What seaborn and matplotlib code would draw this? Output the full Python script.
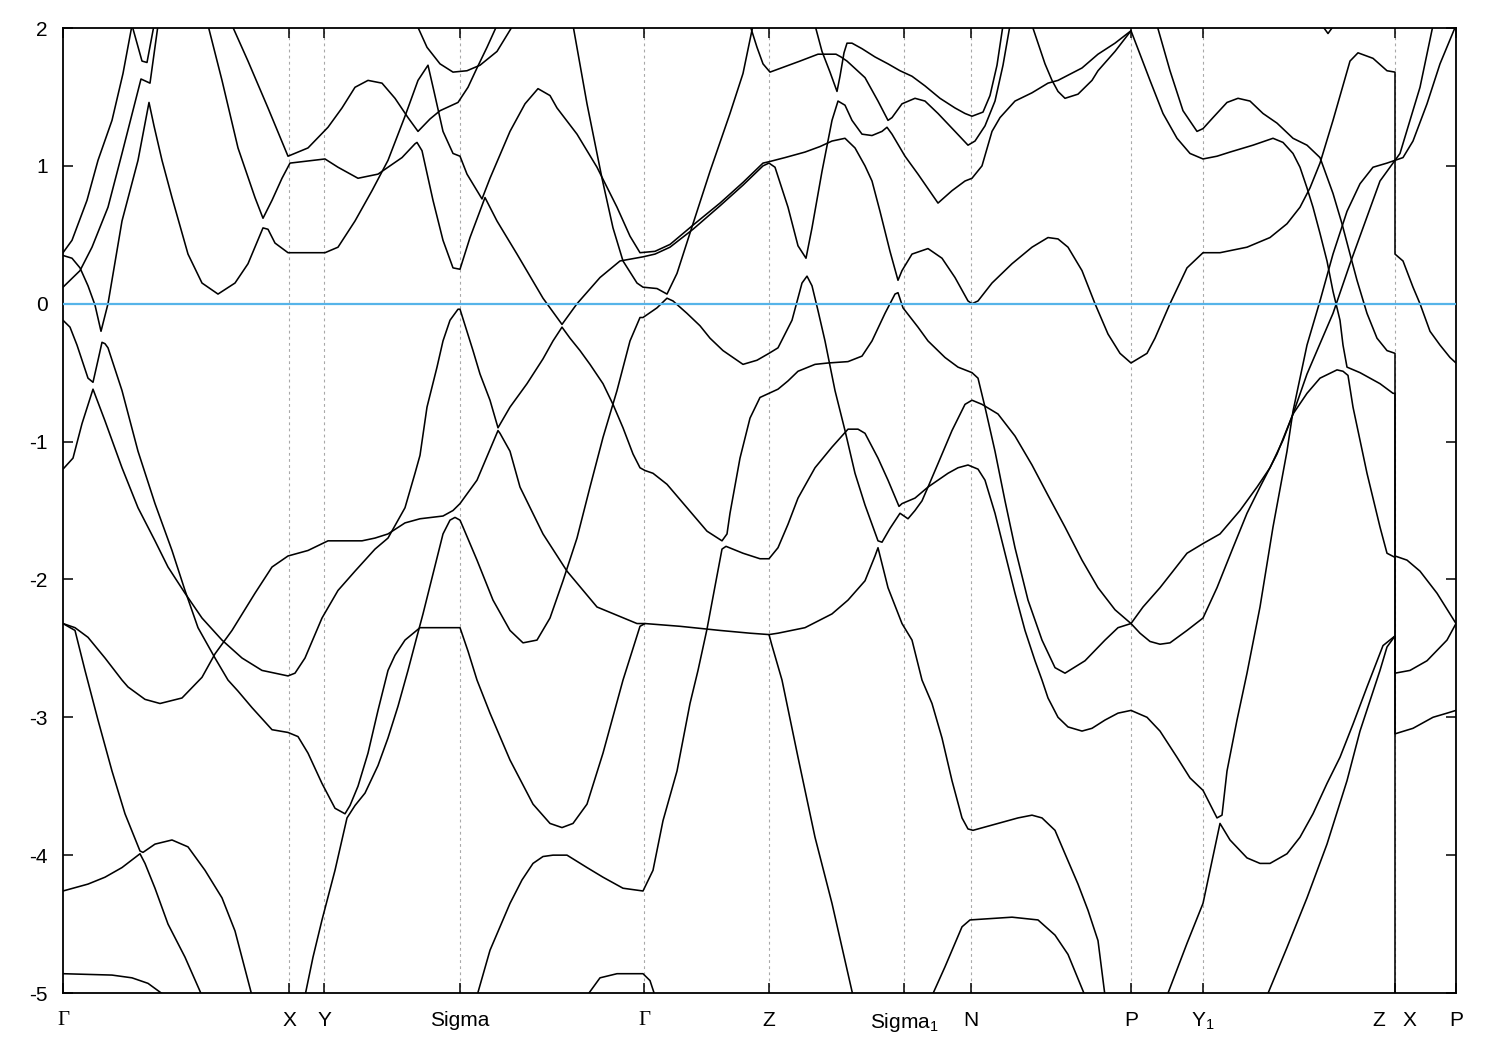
import matplotlib
matplotlib.use("Agg")
import matplotlib.pyplot as plt
import seaborn as sns
import pandas as pd

# ---------------- path / axis data ----------------
kpath_pos = [0.00, 2.26, 2.61, 3.97, 5.81, 7.06, 8.41, 9.08, 10.68, 11.40, 13.32, 13.93]
kpath_labels = ["Γ", "X", "Y", "Sigma", "Γ", "Z", "Sigma$_1$", "N", "P", "Y$_1$", "Z   X", "P"]
energy_ticks = [-5, -4, -3, -2, -1, 0, 1, 2]
fermi_level = 0.0

# ---------------- bands (k, E) ----------------
band01 = [(0.00, 0.37), (0.09, 0.46), (0.24, 0.75), (0.35, 1.04), (0.49, 1.33), (0.60, 1.67), (0.69, 2.02),
          (0.79, 1.76), (0.84, 1.75), (0.91, 2.02)]
band02 = [(0.00, 0.12), (0.17, 0.24), (0.29, 0.41), (0.45, 0.70), (0.59, 1.09), (0.78, 1.63), (0.87, 1.60),
          (0.95, 2.02)]
band03 = [(0.00, 0.35), (0.09, 0.33), (0.17, 0.26), (0.25, 0.13), (0.32, -0.01), (0.38, -0.20), (0.45, 0.00),
          (0.59, 0.60), (0.75, 1.04), (0.86, 1.46), (0.91, 1.29), (0.99, 1.04), (1.09, 0.77), (1.25, 0.36),
          (1.39, 0.15), (1.55, 0.07), (1.72, 0.15), (1.85, 0.29), (2.00, 0.55), (2.05, 0.54), (2.12, 0.44),
          (2.25, 0.37), (2.62, 0.37), (2.75, 0.41), (2.92, 0.60), (3.09, 0.82), (3.25, 1.04), (3.42, 1.36),
          (3.55, 1.62), (3.65, 1.73), (3.71, 1.54), (3.80, 1.25), (3.90, 1.09), (3.97, 1.07), (4.04, 0.94),
          (4.19, 0.76), (4.27, 0.91), (4.47, 1.25), (4.62, 1.45), (4.75, 1.56), (4.87, 1.51), (4.94, 1.42),
          (5.14, 1.23), (5.34, 0.99), (5.54, 0.70), (5.67, 0.49), (5.77, 0.37), (5.92, 0.38), (6.07, 0.43),
          (6.30, 0.57), (6.57, 0.73), (6.80, 0.88), (7.00, 1.02), (7.06, 1.03),
          (7.22, 1.06), (7.42, 1.10), (7.57, 1.14), (7.69, 1.18), (7.82, 1.20), (7.92, 1.13), (8.02, 1.00),
          (8.09, 0.89), (8.17, 0.67), (8.27, 0.38), (8.35, 0.17), (8.39, 0.24), (8.49, 0.36), (8.65, 0.40),
          (8.79, 0.33), (8.92, 0.19), (9.05, 0.02), (9.09, 0.00), (9.15, 0.02), (9.29, 0.15), (9.49, 0.29),
          (9.69, 0.41), (9.85, 0.48), (9.95, 0.47), (10.05, 0.41), (10.19, 0.24), (10.32, 0.00), (10.45, -0.22),
          (10.57, -0.36), (10.68, -0.43),
          (10.84, -0.36), (10.92, -0.25), (11.07, 0.00), (11.24, 0.26), (11.40, 0.37), (11.57, 0.37),
          (11.84, 0.41), (12.07, 0.48), (12.24, 0.58), (12.37, 0.70), (12.47, 0.84), (12.57, 1.02),
          (12.70, 1.33), (12.87, 1.76), (12.95, 1.82), (13.10, 1.78), (13.24, 1.69), (13.32, 1.68),
          (13.32, 0.36), (13.40, 0.31), (13.50, 0.12), (13.57, 0.00), (13.67, -0.20), (13.77, -0.30),
          (13.87, -0.39), (13.93, -0.43)]
band04 = [(1.45, 2.02), (1.59, 1.62), (1.75, 1.13), (1.92, 0.77), (2.00, 0.62), (2.09, 0.75), (2.19, 0.91),
          (2.27, 1.02), (2.62, 1.05), (2.75, 0.99), (2.95, 0.91), (3.15, 0.94), (3.39, 1.06), (3.52, 1.16),
          (3.54, 1.17), (3.59, 1.11), (3.70, 0.75), (3.80, 0.46), (3.90, 0.26), (3.97, 0.25), (4.07, 0.48),
          (4.22, 0.77), (4.34, 0.60), (4.54, 0.36), (4.80, 0.04), (4.99, -0.15), (5.14, 0.00), (5.37, 0.19),
          (5.57, 0.31), (5.80, 0.34), (5.92, 0.36), (6.07, 0.41), (6.30, 0.54), (6.57, 0.71), (6.80, 0.86),
          (7.00, 1.00), (7.06, 1.02),
          (7.12, 0.99), (7.25, 0.70), (7.35, 0.42), (7.43, 0.33), (7.49, 0.55), (7.59, 0.96), (7.69, 1.33),
          (7.75, 1.47), (7.82, 1.44), (7.89, 1.33), (7.99, 1.23), (8.09, 1.22), (8.19, 1.25), (8.24, 1.28),
          (8.29, 1.23), (8.42, 1.07), (8.55, 0.94), (8.75, 0.73), (8.89, 0.82), (9.02, 0.89), (9.09, 0.91),
          (9.19, 1.00), (9.29, 1.25), (9.37, 1.35), (9.52, 1.47), (9.69, 1.53), (9.85, 1.60), (9.95, 1.62),
          (10.19, 1.71), (10.35, 1.81), (10.52, 1.89), (10.68, 1.98),
          (10.77, 1.81), (10.87, 1.62), (11.00, 1.38), (11.14, 1.20), (11.27, 1.09), (11.40, 1.05),
          (11.54, 1.07), (11.67, 1.10), (11.90, 1.15), (12.10, 1.20), (12.20, 1.17), (12.30, 1.09),
          (12.37, 0.99), (12.44, 0.84), (12.50, 0.70), (12.57, 0.51), (12.64, 0.31), (12.70, 0.09),
          (12.77, -0.12), (12.80, -0.30), (12.84, -0.46), (12.97, -0.50), (13.17, -0.58), (13.30, -0.65),
          (13.32, -0.65), (13.32, -1.83), (13.44, -1.86), (13.57, -1.94), (13.74, -2.10), (13.93, -2.32)]
band05 = [(1.69, 2.02), (1.85, 1.76), (2.05, 1.42), (2.25, 1.07), (2.45, 1.13), (2.65, 1.28), (2.79, 1.42),
          (2.92, 1.57), (3.05, 1.62), (3.19, 1.60), (3.32, 1.49), (3.45, 1.35), (3.55, 1.25), (3.67, 1.34),
          (3.77, 1.40), (3.95, 1.46), (4.05, 1.57), (4.14, 1.71), (4.24, 1.86), (4.34, 2.02)]
band06 = [(3.54, 2.02), (3.64, 1.86), (3.77, 1.74), (3.90, 1.68), (4.04, 1.69), (4.17, 1.73), (4.34, 1.83),
          (4.50, 2.02)]
band07 = [(5.10, 2.02), (5.24, 1.45), (5.39, 0.91), (5.50, 0.55), (5.60, 0.31), (5.74, 0.15), (5.80, 0.12),
          (5.94, 0.11), (6.04, 0.07), (6.14, 0.22), (6.30, 0.58), (6.47, 0.96), (6.67, 1.38), (6.80, 1.67),
          (6.90, 2.02)]
band08 = [(6.87, 2.02), (6.94, 1.86), (7.00, 1.74), (7.07, 1.68), (7.22, 1.72), (7.37, 1.76), (7.55, 1.81),
          (7.73, 1.81), (7.78, 1.79), (7.84, 1.76), (8.02, 1.64), (8.15, 1.47), (8.25, 1.33), (8.29, 1.35),
          (8.39, 1.45), (8.52, 1.49), (8.62, 1.47), (8.75, 1.38), (8.92, 1.25), (9.05, 1.15), (9.12, 1.18),
          (9.22, 1.29), (9.32, 1.47), (9.40, 1.73), (9.47, 2.02)]
band09 = [(7.52, 2.02), (7.59, 1.83), (7.67, 1.68), (7.74, 1.54), (7.77, 1.65), (7.81, 1.82), (7.84, 1.89),
          (7.89, 1.89), (7.99, 1.85), (8.12, 1.79), (8.25, 1.74), (8.37, 1.69), (8.49, 1.65), (8.62, 1.58),
          (8.77, 1.49), (8.92, 1.42), (9.02, 1.38), (9.09, 1.36), (9.20, 1.39), (9.27, 1.51), (9.34, 1.73),
          (9.40, 2.02)]
band10 = [(9.69, 2.02), (9.82, 1.74), (9.89, 1.62), (9.95, 1.54), (10.02, 1.49), (10.15, 1.52), (10.29, 1.62),
          (10.35, 1.69), (10.52, 1.83), (10.68, 1.98)]
band11 = [(10.94, 2.02), (11.07, 1.69), (11.20, 1.40), (11.34, 1.25), (11.40, 1.27), (11.50, 1.35),
          (11.64, 1.46), (11.75, 1.49), (11.87, 1.47), (12.00, 1.38), (12.14, 1.31), (12.30, 1.20),
          (12.44, 1.15), (12.57, 1.06), (12.70, 0.80), (12.79, 0.58), (12.87, 0.36), (12.94, 0.17),
          (13.04, -0.07), (13.14, -0.25), (13.24, -0.34), (13.32, -0.36), (13.32, -5.10)]
band12 = [(0.00, -1.20), (0.10, -1.12), (0.19, -0.87), (0.30, -0.62), (0.42, -0.85), (0.59, -1.19),
          (0.75, -1.48), (0.92, -1.72), (1.05, -1.91), (1.22, -2.10), (1.39, -2.28), (1.59, -2.44),
          (1.79, -2.57), (1.99, -2.66), (2.25, -2.70), (2.32, -2.68), (2.42, -2.57), (2.59, -2.28),
          (2.75, -2.08), (2.92, -1.94), (3.12, -1.78), (3.25, -1.70), (3.42, -1.48), (3.52, -1.23),
          (3.57, -1.10), (3.64, -0.75), (3.74, -0.46), (3.80, -0.27), (3.87, -0.12), (3.95, -0.04),
          (3.97, -0.04), (4.10, -0.34), (4.17, -0.51), (4.27, -0.70), (4.35, -0.90), (4.47, -0.75),
          (4.64, -0.58), (4.80, -0.40), (4.90, -0.27), (4.99, -0.17), (5.07, -0.25), (5.17, -0.34),
          (5.27, -0.44), (5.40, -0.58), (5.50, -0.73), (5.60, -0.90), (5.70, -1.09), (5.77, -1.19),
          (5.82, -1.21), (5.90, -1.23), (6.04, -1.31), (6.24, -1.48), (6.44, -1.65), (6.59, -1.72),
          (6.64, -1.67), (6.67, -1.52), (6.77, -1.12), (6.87, -0.83), (6.97, -0.68), (7.06, -0.65),
          (7.15, -0.62), (7.25, -0.56), (7.35, -0.49), (7.52, -0.44), (7.65, -0.43), (7.85, -0.42),
          (7.99, -0.38), (8.09, -0.27), (8.22, -0.07), (8.32, 0.07), (8.35, 0.08), (8.40, -0.03),
          (8.55, -0.17), (8.65, -0.27), (8.82, -0.39), (8.95, -0.46), (9.09, -0.50), (9.15, -0.54),
          (9.22, -0.75), (9.32, -1.07), (9.42, -1.43), (9.52, -1.77), (9.65, -2.15), (9.79, -2.44),
          (9.92, -2.64), (10.02, -2.68), (10.22, -2.59), (10.42, -2.44), (10.55, -2.35), (10.68, -2.32),
          (10.77, -2.39), (10.87, -2.45), (10.97, -2.47), (11.07, -2.46), (11.24, -2.37), (11.40, -2.28),
          (11.54, -2.06), (11.70, -1.77), (11.84, -1.52), (11.97, -1.33), (12.14, -1.09), (12.30, -0.80),
          (12.44, -0.51), (12.57, -0.29), (12.70, -0.07), (12.87, 0.29), (13.00, 0.55), (13.17, 0.89),
          (13.30, 1.02), (13.32, 1.04), (13.37, 1.09), (13.47, 1.33), (13.57, 1.57), (13.70, 2.02)]
band13 = [(2.42, -5.02), (2.50, -4.74), (2.59, -4.47), (2.72, -4.11), (2.78, -3.92), (2.84, -3.73),
          (2.92, -3.64), (3.02, -3.55), (3.15, -3.35), (3.25, -3.15), (3.35, -2.92), (3.45, -2.66),
          (3.53, -2.44), (3.60, -2.25), (3.70, -1.96), (3.80, -1.67), (3.87, -1.57), (3.92, -1.55),
          (3.97, -1.57), (4.00, -1.62), (4.14, -1.86), (4.30, -2.15), (4.47, -2.37), (4.60, -2.46),
          (4.74, -2.44), (4.87, -2.28), (5.00, -2.01), (5.14, -1.70), (5.27, -1.33), (5.40, -0.97),
          (5.54, -0.63), (5.67, -0.27), (5.77, -0.10), (5.80, -0.10), (5.94, -0.03), (6.04, 0.04),
          (6.10, 0.02), (6.24, -0.07), (6.37, -0.16), (6.47, -0.25), (6.60, -0.34), (6.80, -0.44),
          (6.94, -0.41), (7.06, -0.36), (7.15, -0.32), (7.29, -0.12), (7.39, 0.15), (7.44, 0.20),
          (7.49, 0.13), (7.55, -0.05), (7.62, -0.27), (7.72, -0.63), (7.82, -0.92), (7.92, -1.23),
          (8.02, -1.46), (8.15, -1.72), (8.19, -1.73), (8.27, -1.63), (8.37, -1.52), (8.45, -1.56),
          (8.52, -1.50), (8.59, -1.43), (8.65, -1.33), (8.75, -1.16), (8.89, -0.92), (9.02, -0.73),
          (9.09, -0.70), (9.19, -0.73), (9.35, -0.80), (9.52, -0.96), (9.69, -1.17), (9.85, -1.39),
          (10.02, -1.62), (10.19, -1.86), (10.35, -2.06), (10.52, -2.22), (10.68, -2.32),
          (10.80, -2.20), (10.97, -2.06), (11.10, -1.94), (11.24, -1.81), (11.40, -1.74), (11.57, -1.67),
          (11.77, -1.50), (11.94, -1.33), (12.07, -1.19), (12.20, -0.99), (12.30, -0.80), (12.44, -0.65),
          (12.57, -0.54), (12.74, -0.48), (12.80, -0.49), (12.85, -0.52), (12.90, -0.75), (13.04, -1.23),
          (13.17, -1.62), (13.24, -1.81), (13.32, -1.84), (13.32, -2.68), (13.47, -2.66), (13.64, -2.59),
          (13.84, -2.44), (13.93, -2.32)]
band14 = [(4.14, -5.02), (4.27, -4.69), (4.47, -4.35), (4.59, -4.18), (4.70, -4.06), (4.80, -4.01),
          (4.90, -4.00), (5.04, -4.00), (5.24, -4.09), (5.40, -4.16), (5.60, -4.24), (5.80, -4.26),
          (5.90, -4.11), (6.00, -3.75), (6.14, -3.39), (6.27, -2.90), (6.35, -2.66), (6.44, -2.36),
          (6.52, -2.05), (6.59, -1.78), (6.63, -1.76), (6.80, -1.81), (6.97, -1.85), (7.06, -1.85),
          (7.15, -1.77), (7.25, -1.60), (7.35, -1.41), (7.52, -1.19), (7.69, -1.04), (7.85, -0.91),
          (7.95, -0.91), (8.02, -0.94), (8.15, -1.12), (8.25, -1.28), (8.36, -1.47), (8.39, -1.45),
          (8.52, -1.41), (8.65, -1.33), (8.85, -1.23), (8.95, -1.19), (9.05, -1.17), (9.15, -1.20),
          (9.22, -1.28), (9.32, -1.52), (9.42, -1.81), (9.52, -2.10), (9.62, -2.37), (9.72, -2.59),
          (9.79, -2.73), (9.85, -2.86), (9.95, -3.00), (10.05, -3.07), (10.19, -3.10), (10.29, -3.08),
          (10.42, -3.02), (10.55, -2.97), (10.68, -2.95),
          (10.84, -3.00), (10.97, -3.10), (11.14, -3.29), (11.27, -3.44), (11.40, -3.53), (11.54, -3.73),
          (11.59, -3.71), (11.64, -3.39), (11.74, -3.02), (11.84, -2.68), (11.97, -2.20), (12.10, -1.62),
          (12.24, -1.07), (12.30, -0.78), (12.44, -0.30), (12.57, 0.02), (12.70, 0.36), (12.84, 0.67),
          (12.97, 0.87), (13.10, 0.99), (13.24, 1.02), (13.32, 1.04), (13.40, 1.06), (13.50, 1.18),
          (13.64, 1.45), (13.77, 1.74), (13.93, 2.02)]
band15 = [(0.00, -0.12), (0.07, -0.17), (0.14, -0.30), (0.25, -0.54), (0.30, -0.57), (0.35, -0.41),
          (0.39, -0.28), (0.42, -0.29), (0.45, -0.32), (0.59, -0.63), (0.75, -1.07), (0.92, -1.45),
          (1.09, -1.79), (1.22, -2.08), (1.35, -2.35), (1.52, -2.57), (1.65, -2.73), (1.75, -2.81),
          (1.89, -2.93), (2.09, -3.09), (2.25, -3.11), (2.35, -3.14), (2.45, -3.26), (2.59, -3.48),
          (2.72, -3.66), (2.82, -3.70), (2.87, -3.64), (2.95, -3.50), (3.05, -3.26), (3.15, -2.95),
          (3.25, -2.66), (3.32, -2.55), (3.42, -2.44), (3.57, -2.35), (3.97, -2.35), (4.05, -2.52),
          (4.14, -2.73), (4.27, -2.97), (4.47, -3.31), (4.70, -3.63), (4.87, -3.77), (4.99, -3.80),
          (5.10, -3.77), (5.24, -3.63), (5.40, -3.26), (5.60, -2.73), (5.77, -2.34), (5.82, -2.32),
          (6.17, -2.34), (6.57, -2.37), (6.87, -2.39), (7.06, -2.40), (7.15, -2.39), (7.42, -2.35),
          (7.69, -2.25), (7.85, -2.15), (8.02, -2.01), (8.12, -1.83), (8.15, -1.77), (8.25, -2.06),
          (8.39, -2.32), (8.49, -2.44), (8.59, -2.73), (8.69, -2.90), (8.79, -3.15), (8.89, -3.46),
          (8.99, -3.73), (9.05, -3.81), (9.10, -3.82), (9.15, -3.81), (9.35, -3.77), (9.55, -3.73),
          (9.69, -3.71), (9.79, -3.73), (9.92, -3.82), (10.02, -3.99), (10.15, -4.21), (10.25, -4.40),
          (10.35, -4.62), (10.42, -5.02)]
band16 = [(0.00, -2.32), (0.12, -2.35), (0.25, -2.42), (0.42, -2.57), (0.59, -2.73), (0.65, -2.78),
          (0.82, -2.87), (0.97, -2.90), (1.19, -2.86), (1.39, -2.71), (1.52, -2.54), (1.69, -2.37),
          (1.92, -2.10), (2.09, -1.91), (2.25, -1.83), (2.45, -1.79), (2.65, -1.72), (2.99, -1.72),
          (3.12, -1.70), (3.25, -1.67), (3.42, -1.59), (3.57, -1.56), (3.80, -1.54), (3.90, -1.50),
          (3.97, -1.45), (4.14, -1.28), (4.35, -0.92), (4.37, -0.94), (4.47, -1.07), (4.57, -1.33),
          (4.80, -1.67), (5.04, -1.94), (5.34, -2.20), (5.74, -2.32), (5.82, -2.32)]
band17 = [(0.00, -2.32), (0.12, -2.37), (0.22, -2.66), (0.35, -3.02), (0.49, -3.39), (0.62, -3.70),
          (0.77, -3.97), (0.80, -3.98), (0.92, -3.92), (1.09, -3.89), (1.25, -3.94), (1.42, -4.11),
          (1.59, -4.31), (1.72, -4.55), (1.89, -5.02)]
band18 = [(0.00, -4.26), (0.25, -4.21), (0.42, -4.16), (0.59, -4.09), (0.77, -3.99), (0.82, -4.06),
          (0.92, -4.24), (1.05, -4.50), (1.22, -4.74), (1.39, -5.02)]
band19 = [(0.00, -4.86), (0.49, -4.87), (0.69, -4.89), (0.85, -4.93), (1.02, -5.02)]
band20 = [(5.24, -5.02), (5.37, -4.89), (5.54, -4.86), (5.80, -4.86), (5.87, -4.91), (5.92, -5.02)]
band21 = [(7.06, -2.40), (7.09, -2.48), (7.19, -2.73), (7.35, -3.29), (7.52, -3.87), (7.69, -4.35),
          (7.90, -5.02)]
band22 = [(8.69, -5.02), (8.82, -4.81), (8.99, -4.52), (9.07, -4.47), (9.49, -4.45), (9.75, -4.47),
          (9.92, -4.58), (10.05, -4.72), (10.22, -5.02)]
band23 = [(11.04, -5.02), (11.24, -4.64), (11.40, -4.35), (11.57, -3.77), (11.67, -3.89), (11.84, -4.02),
          (11.97, -4.06), (12.07, -4.06), (12.24, -3.99), (12.37, -3.87), (12.50, -3.70), (12.64, -3.48),
          (12.77, -3.29), (12.90, -3.05), (13.04, -2.78), (13.20, -2.48), (13.32, -2.41), (13.32, -3.12),
          (13.50, -3.08), (13.70, -3.00), (13.84, -2.97), (13.93, -2.95)]
band24 = [(12.04, -5.02), (12.24, -4.67), (12.44, -4.31), (12.64, -3.92), (12.84, -3.46), (12.97, -3.10),
          (13.17, -2.66), (13.24, -2.49), (13.32, -2.41)]
band25 = [(12.59, 2.02), (12.65, 1.96), (12.71, 2.02)]

bands = [band01, band02, band03, band04, band05, band06, band07, band08, band09, band10, band11, band12,
         band13, band14, band15, band16, band17, band18, band19, band20, band21, band22, band23, band24,
         band25]

rows = []
for i, b in enumerate(bands):
    for j, (k, e) in enumerate(b):
        rows.append({"band": f"b{i:02d}", "order": j, "k": k, "E": e})
df = pd.DataFrame(rows)

# ---------------- styling ----------------
sns.set_theme(style="white")
plt.rcParams["font.family"] = ["Liberation Sans", "DejaVu Sans"]
plt.rcParams["axes.unicode_minus"] = False
plt.rcParams["mathtext.fontset"] = "custom"
plt.rcParams["mathtext.rm"] = "Liberation Sans"
plt.rcParams["mathtext.it"] = "Liberation Sans:italic"

fig = plt.figure(figsize=(15, 10.5), dpi=100)
ax = fig.add_axes([63 / 1500, 1 - 993 / 1050, 1393 / 1500, 965 / 1050])

# dotted grid at high-symmetry points
for x in kpath_pos[1:-1]:
    ax.axvline(x, color="#a8a8a8", lw=0.8, ls=(0, (2.5, 3)), zorder=0)

sns.lineplot(data=df, x="k", y="E", units="band", estimator=None, sort=False,
             color="black", lw=1.15, ax=ax, legend=False, zorder=2)

ax.axhline(fermi_level, color="#56b4e9", lw=1.6, zorder=3)

ax.set_xlim(kpath_pos[0], kpath_pos[-1])
ax.set_ylim(-5, 2)
ax.set_xticks(kpath_pos)
ax.set_xticklabels(kpath_labels)
ax.set_yticks(energy_ticks)
ax.set_yticklabels([str(t) for t in energy_ticks])
ax.set_xlabel("")
ax.set_ylabel("")

ax.tick_params(axis="both", which="both", direction="in", length=7, width=1.1,
               top=True, right=True, bottom=True, left=True, labelsize=15, colors="black")
ax.tick_params(axis="x", pad=13)
ax.tick_params(axis="y", pad=11)
for lab in ax.get_xticklabels():
    if lab.get_text() == "Γ":
        lab.set_fontfamily(["Liberation Serif", "DejaVu Serif"])

for sp in ax.spines.values():
    sp.set_visible(True)
    sp.set_color("black")
    sp.set_linewidth(1.3)

fig.savefig("out.png", dpi=100)
